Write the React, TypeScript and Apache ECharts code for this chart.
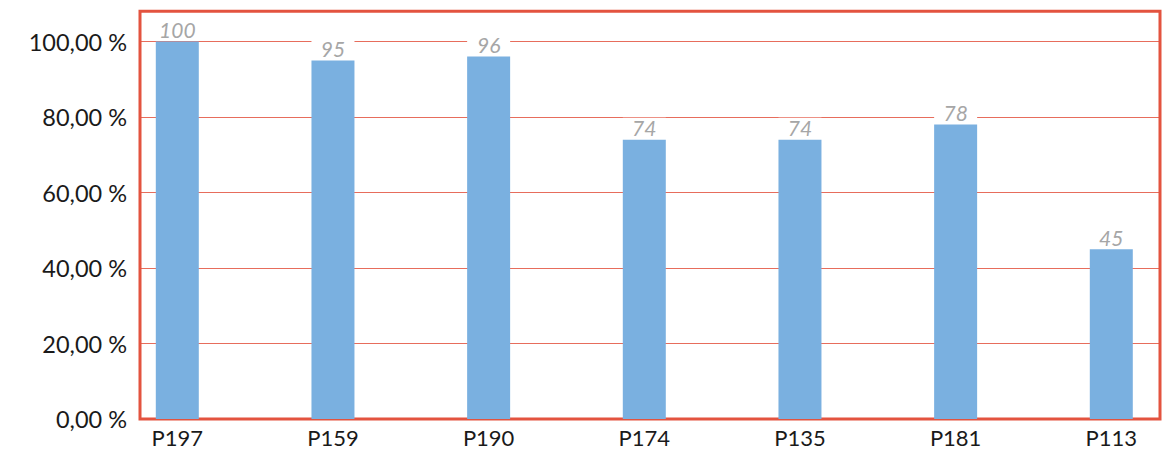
import React, { useEffect, useRef } from "react";
import * as echarts from "echarts";

const categories = ["P197", "P159", "P190", "P174", "P135", "P181", "P113"];
const values = [100, 95, 96, 74, 74, 78, 45];
const yTicks = [0, 20, 40, 60, 80, 100];

const FONT = "Lato, 'Open Sans', sans-serif";
const RED = "#E3533F";

export default function App() {
  const ref = useRef<HTMLDivElement>(null);
  useEffect(() => {
    document.body.style.margin = "0";
    if (!ref.current) return;
    const chart = echarts.init(ref.current, undefined, { renderer: "svg" });
    chart.setOption({
      animation: false,
      textStyle: { fontFamily: FONT },
      grid: [
        { left: 140, right: 3, top: 11.3, bottom: 31, show: true, borderColor: RED, borderWidth: 3, backgroundColor: "transparent" },
        { left: 177.3, width: 934, top: 11.3, bottom: 31 },
      ],
      xAxis: [
        { type: "category", gridIndex: 0, data: categories, show: false },
        {
          type: "category",
          gridIndex: 1,
          data: categories,
          boundaryGap: false,
          axisLine: { show: false },
          axisTick: { show: false },
          axisLabel: { color: "#1a1a1a", fontSize: 22, fontFamily: FONT, margin: 7 },
        },
      ],
      yAxis: [
        {
          type: "value",
          gridIndex: 0,
          min: 0,
          max: 108,
          interval: 20,
          axisLine: { show: false },
          axisTick: { show: false },
          axisLabel: {
            color: "#1a1a1a",
            fontSize: 23.5,
            fontFamily: FONT,
            margin: 13,
            showMaxLabel: false,
            formatter: (v: number) => (yTicks.includes(v) ? v.toFixed(2).replace(".", ",") + " %" : ""),
          },
          splitLine: { show: true, lineStyle: { color: RED, width: 1, opacity: 0.85 } },
        },
        { type: "value", gridIndex: 1, min: 0, max: 108, show: false, splitLine: { show: false } },
      ],
      series: [
        {
          type: "bar",
          xAxisIndex: 1,
          yAxisIndex: 1,
          data: values,
          barWidth: 43,
          itemStyle: { color: "#7AB0E0" },
          label: {
            show: true,
            position: "top",
            distance: 2,
            color: "#A6A6A6",
            fontStyle: "italic",
            fontSize: 21,
            fontFamily: FONT,
            backgroundColor: "#ffffff",
            width: 43,
            align: "center",
            lineHeight: 20,
            padding: [0, 0],
          },
        },
      ],
    });
    return () => chart.dispose();
  }, []);
  return <div ref={ref} style={{ width: 1163, height: 450 }} />;
}
